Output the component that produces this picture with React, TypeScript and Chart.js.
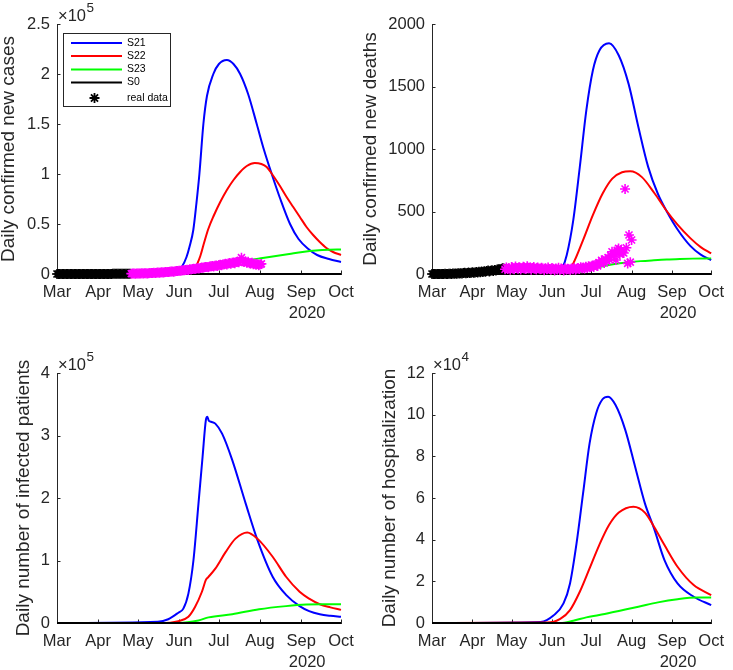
import { useEffect, useRef } from 'react';
import { Chart, registerables } from 'chart.js';

Chart.register(...registerables);

const FIG_W = 733;
const FIG_H = 670;
const FONT = '"Liberation Sans", Arial, Helvetica, sans-serif';
const INK = '#262626';

// ---------- axis categories ----------
const monthDays = [0, 31, 61, 92, 122, 153, 184, 214]; // days since 1 Mar 2020
const monthLabels = ['Mar', 'Apr', 'May', 'Jun', 'Jul', 'Aug', 'Sep', 'Oct'];
const yearLabel = '2020';

const seriesNames = ['S21', 'S22', 'S23', 'S0'];
const seriesColors = ['#0000ff', '#ff0000', '#00ff00', '#000000'];
const realDataName = 'real data';
const realEarlyColor = '#000000';
const realLateColor = '#ff00ff';

// ---------- real data (daily) ----------
const realEarlyStart = 0; // 1 Mar
const realLateStart = 56; // 26 Apr

const casesEarly = [
  0, 0, 0, 0, 1, 0, 2, 3, 6, 3,
  4, 17, 13, 13, 24, 38, 23, 46, 62, 54,
  56, 52, 80, 93, 47, 82, 87, 92, 65, 89,
  46, 71, 81, 72, 58, 106, 97, 102, 80, 86,
  84, 120, 143, 167, 148, 152, 174, 184, 198, 177,
  224, 197, 205, 245, 286, 318,
];
const casesLate = [
  354, 423, 440, 368, 471, 495, 612, 520, 663, 595,
  698, 730, 588, 874, 905, 1010, 943, 1160, 1078, 1225,
  1380, 1210, 1505, 1640, 1510, 1790, 1880, 2080, 1930, 2290,
  2440, 2620, 2350, 2780, 3050, 2880, 3270, 3150, 3510, 3820,
  3690, 4080, 4360, 4020, 4640, 4510, 4880, 5210, 4970, 5520,
  5840, 5460, 6120, 6450, 6210, 6780, 6970, 7120, 6640, 7380,
  7690, 7940, 7420, 8250, 8560, 8110, 8920, 9240, 8730, 9480,
  9830, 10210, 9560, 10620, 10940, 10150, 11360, 11620, 10820, 12080,
  12450, 11710, 13240, 16300, 12830, 11950, 12640, 11280, 12180, 10870,
  10420, 11150, 9680, 10330, 9240, 10060, 8870, 9520, 10120,
];
const deathsEarly = [
  0, 0, 0, 0, 0, 0, 0, 1, 0, 0,
  2, 1, 0, 3, 2, 1, 4, 3, 5, 2,
  6, 4, 7, 5, 8, 10, 6, 9, 12, 8,
  11, 14, 10, 13, 16, 12, 18, 15, 20, 17,
  22, 19, 24, 28, 21, 26, 31, 25, 33, 29,
  36, 38, 32, 41, 47, 44,
];
const deathsLate = [
  38, 52, 41, 47, 35, 56, 44, 39, 61, 48,
  42, 55, 37, 49, 58, 45, 40, 63, 51, 46,
  34, 48, 57, 42, 36, 53, 45, 39, 50, 44,
  31, 46, 38, 52, 41, 35, 48, 43, 29, 45,
  37, 50, 33, 44, 40, 28, 47, 36, 42, 39,
  32, 45, 38, 51, 35, 43, 48, 40, 55, 46,
  52, 44, 58, 49, 63, 55, 60, 68, 57, 72,
  78, 65, 92, 84, 110, 98, 88, 120, 105, 132,
  115, 150, 178, 142, 165, 112, 190, 205, 158, 192,
  175, 168, 680, 210, 85, 312, 95, 272,
];

// ---------- model scenarios: daily confirmed new cases ----------
const casesS21Days = [0, 85, 90, 94, 97.6, 100, 102.7, 105, 107.3, 110.3, 113, 117.8, 122, 128, 133, 138, 144, 150.5, 156, 161.8, 168, 175.6, 182, 189.4, 196, 205, 214];
const casesS21 = [0, 500, 2000, 7000, 17000, 28000, 44000, 70000, 100000, 150000, 178000, 200000, 210000, 214000, 210000, 200000, 180000, 150000, 124000, 100000, 76000, 50000, 35000, 25000, 19000, 15000, 12000];
const casesS22Days = [0, 96, 100, 104, 108, 111, 114, 118, 123, 128, 133, 138, 143, 149, 154, 158, 162, 168, 173, 178, 183, 188, 193, 198, 203, 208, 214];
const casesS22 = [0, 0, 1000, 6000, 18000, 32000, 45000, 58000, 72000, 84000, 94000, 102000, 108000, 111000, 110000, 107000, 100000, 88000, 77000, 67000, 57000, 47000, 39000, 32000, 26000, 22000, 19000];
const casesS23Days = [0, 95, 105, 115, 125, 135, 145, 155, 165, 175, 185, 195, 205, 214];
const casesS23 = [0, 0, 2000, 5000, 8000, 11000, 14000, 16000, 18000, 20000, 22000, 23500, 24300, 24500];
const casesS0Days = [0, 214];
const casesS0 = [0, 0];

// ---------- daily confirmed new deaths ----------
const deathsS21Days = [0, 95.8, 100, 103.3, 108.3, 113.3, 118.3, 123.3, 128.3, 135.7, 143.2, 150.7, 158.2, 165.7, 173.2, 180, 188, 198, 206, 214];
const deathsS21 = [0, 0, 50, 152, 431, 856, 1309, 1628, 1788, 1846, 1748, 1521, 1176, 857, 640, 500, 360, 225, 155, 112];
const deathsS22Days = [0, 100, 104.5, 108.3, 115.8, 123.3, 130.8, 138.2, 145.7, 152, 160.7, 170.7, 179.5, 188.2, 198.2, 206, 214];
const deathsS22 = [0, 0, 25, 85, 271, 471, 644, 763, 814, 822, 777, 644, 510, 395, 285, 215, 165];
const deathsS23Days = [0, 100, 110, 120, 130, 140, 150, 160, 170, 180, 190, 200, 214];
const deathsS23 = [0, 0, 10, 35, 60, 80, 93, 103, 110, 116, 120, 123, 125];
const deathsS0Days = [0, 214];
const deathsS0 = [0, 0];

// ---------- daily number of infected patients ----------
const infS21Days = [0, 76, 83.8, 91.4, 95.2, 99, 102.8, 106.6, 109.7, 112.2, 113.3, 114.3, 116, 119.3, 124.4, 132, 142.2, 151, 162.5, 172.6, 182.8, 190, 198, 206, 214];
const infS21 = [0, 2000, 6000, 16500, 23000, 47000, 100000, 191000, 266000, 325000, 330000, 324000, 322000, 319000, 303000, 261000, 191000, 133000, 74000, 45000, 27000, 19000, 14000, 11500, 10000];
const infS22Days = [0, 77.7, 91.4, 99, 104.1, 109.2, 112.2, 113.8, 119.3, 126.9, 134.5, 143.4, 151, 162.5, 172.6, 182.8, 190, 198, 206, 214];
const infS22 = [0, 0, 3000, 10000, 26000, 50000, 69000, 73000, 87000, 113000, 135000, 145000, 135000, 106000, 74000, 50000, 39000, 30000, 25000, 21000];
const infS23Days = [0, 91.4, 106.6, 114.2, 132, 152.3, 172.6, 187.8, 200, 214];
const infS23 = [0, 0, 4000, 9000, 14000, 22000, 27000, 29500, 30000, 30000];
const infS0Days = [0, 214];
const infS0 = [0, 0];

// ---------- daily number of hospitalization ----------
const hospS21Days = [0, 83.3, 93.3, 100.8, 105.8, 110.8, 115.8, 120.8, 125.8, 130.7, 135, 140.7, 148.2, 155.7, 163.2, 170.2, 178.2, 188.2, 200.6, 214];
const hospS21 = [0, 500, 3700, 9400, 19000, 38200, 62200, 86200, 100600, 107400, 108600, 104600, 92600, 75000, 57400, 45400, 30200, 19000, 12600, 8600];
const hospS22Days = [0, 88.3, 98.3, 105.8, 113.3, 120.8, 128.2, 135.7, 143.2, 154.4, 163.2, 170.2, 178.2, 188.2, 200.6, 214];
const hospS22 = [0, 200, 2000, 6200, 15000, 26200, 37400, 47000, 53000, 55800, 53000, 46200, 37400, 27000, 18200, 13400];
const hospS23Days = [0, 98.3, 108.3, 118.3, 128.2, 143.2, 158.2, 173.2, 188.2, 203.2, 214];
const hospS23 = [0, 0, 1100, 2700, 3800, 5800, 7800, 9900, 11400, 12200, 12200];
const hospS0Days = [0, 214];
const hospS0 = [0, 0];

// ---------- panel setup ----------
type Series = { days: number[]; vals: number[] };
type Panel = {
  title: string;
  yMax: number;
  yStep: number;
  yDiv: number;
  expText: string | null;
  area: { l: number; t: number; r: number; b: number };
  titleCx: number;
  models: Series[];
  realEarly?: number[];
  realLate?: number[];
  legend?: boolean;
};

const panels: Panel[] = [
  {
    title: 'Daily confirmed new cases',
    yMax: 250000, yStep: 50000, yDiv: 1e5, expText: '5',
    area: { l: 57, t: 24, r: 341, b: 274 }, titleCx: 8.5,
    models: [
      { days: casesS21Days, vals: casesS21 },
      { days: casesS22Days, vals: casesS22 },
      { days: casesS23Days, vals: casesS23 },
      { days: casesS0Days, vals: casesS0 },
    ],
    realEarly: casesEarly, realLate: casesLate, legend: true,
  },
  {
    title: 'Daily confirmed new deaths',
    yMax: 2000, yStep: 500, yDiv: 1, expText: null,
    area: { l: 432, t: 24, r: 718, b: 274 }, titleCx: 370.5,
    models: [
      { days: deathsS21Days, vals: deathsS21 },
      { days: deathsS22Days, vals: deathsS22 },
      { days: deathsS23Days, vals: deathsS23 },
      { days: deathsS0Days, vals: deathsS0 },
    ],
    realEarly: deathsEarly, realLate: deathsLate,
  },
  {
    title: 'Daily number of infected patients',
    yMax: 400000, yStep: 100000, yDiv: 1e5, expText: '5',
    area: { l: 57, t: 373, r: 341, b: 623 }, titleCx: 24,
    models: [
      { days: infS21Days, vals: infS21 },
      { days: infS22Days, vals: infS22 },
      { days: infS23Days, vals: infS23 },
      { days: infS0Days, vals: infS0 },
    ],
  },
  {
    title: 'Daily number of hospitalization',
    yMax: 120000, yStep: 20000, yDiv: 1e4, expText: '4',
    area: { l: 432, t: 373, r: 718, b: 623 }, titleCx: 389.5,
    models: [
      { days: hospS21Days, vals: hospS21 },
      { days: hospS22Days, vals: hospS22 },
      { days: hospS23Days, vals: hospS23 },
      { days: hospS0Days, vals: hospS0 },
    ],
  },
];

const TICK_SIZE = 16.5;
const TITLE_SIZE = 19;
const TITLE_LH = 0.8;
const MARKER_R = 5;
const MARKER_W = 1.6;

function drawStar(ctx: CanvasRenderingContext2D, cx: number, cy: number, r: number) {
  const d = r * Math.SQRT1_2;
  ctx.beginPath();
  ctx.moveTo(cx - r, cy); ctx.lineTo(cx + r, cy);
  ctx.moveTo(cx, cy - r); ctx.lineTo(cx, cy + r);
  ctx.moveTo(cx - d, cy - d); ctx.lineTo(cx + d, cy + d);
  ctx.moveTo(cx - d, cy + d); ctx.lineTo(cx + d, cy - d);
  ctx.stroke();
}

const inwardTicks = {
  id: 'inwardTicks',
  beforeDatasetsDraw(chart: any) {
    const { ctx, chartArea: a, scales } = chart;
    const x = scales.x;
    const y = scales.y;
    ctx.save();
    ctx.strokeStyle = INK;
    ctx.lineWidth = 1;
    ctx.beginPath();
    for (const t of x.ticks) {
      const px = Math.round(x.getPixelForValue(t.value)) + 0.5;
      ctx.moveTo(px, a.bottom);
      ctx.lineTo(px, a.bottom - 3.5);
    }
    for (const t of y.ticks) {
      const py = Math.round(y.getPixelForValue(t.value)) + 0.5;
      ctx.moveTo(a.left, py);
      ctx.lineTo(a.left + 3.5, py);
    }
    ctx.stroke();
    ctx.restore();
  },
};

const figExtras = {
  id: 'figExtras',
  afterDraw(chart: any, _args: any, opts: any) {
    const { ctx, chartArea: a, scales } = chart;
    const x = scales.x;
    ctx.save();
    ctx.fillStyle = INK;
    ctx.font = `${TICK_SIZE}px ${FONT}`;
    ctx.textAlign = 'center';
    ctx.textBaseline = 'middle';
    ctx.fillText(yearLabel, x.getPixelForValue(monthDays[6]) + 6, a.bottom + 39);

    if (opts && opts.expText) {
      ctx.textAlign = 'left';
      ctx.textBaseline = 'alphabetic';
      ctx.font = `${TICK_SIZE}px ${FONT}`;
      const base = '\u00d710';
      ctx.fillText(base, a.left + 1, a.top - 3.5);
      const w = ctx.measureText(base).width;
      ctx.font = `13.5px ${FONT}`;
      ctx.fillText(opts.expText, a.left + 1 + w + 0.5, a.top - 12);
    }

    if (opts && opts.legend) {
      const bx = 63.5, by = 33.5, bw = 107, bh = 73;
      ctx.fillStyle = '#ffffff';
      ctx.fillRect(bx, by, bw, bh);
      ctx.strokeStyle = INK;
      ctx.lineWidth = 1;
      ctx.strokeRect(bx, by, bw, bh);
      const rowY = [43, 56, 69.5, 82.5];
      ctx.font = `10.5px ${FONT}`;
      ctx.textAlign = 'left';
      ctx.textBaseline = 'middle';
      seriesNames.forEach((n, i) => {
        ctx.strokeStyle = seriesColors[i];
        ctx.lineWidth = 2;
        ctx.beginPath();
        ctx.moveTo(71, rowY[i]);
        ctx.lineTo(122, rowY[i]);
        ctx.stroke();
        ctx.fillStyle = '#000000';
        ctx.fillText(n, 127, rowY[i]);
      });
      ctx.strokeStyle = realEarlyColor;
      ctx.lineWidth = 1.8;
      drawStar(ctx, 94.5, 98, 5);
      ctx.fillStyle = '#000000';
      ctx.fillText(realDataName, 127, 98);
    }
    ctx.restore();
  },
};

const pts = (days: number[], vals: number[]) => days.map((d, i) => ({ x: d, y: vals[i] }));
const daily = (start: number, vals: number[]) => vals.map((v, i) => ({ x: start + i, y: v }));

function makeChart(canvas: HTMLCanvasElement, p: Panel) {
  const padLeft = p.titleCx - (TITLE_SIZE * TITLE_LH) / 2;
  const datasets: any[] = [];
  const realStyle = (color: string) => ({
    showLine: false,
    pointStyle: 'star',
    pointRadius: MARKER_R,
    pointBorderWidth: MARKER_W,
    pointBorderColor: color,
    pointBackgroundColor: color,
    borderColor: color,
    clip: false,
  });
  if (p.realLate) {
    datasets.push({ label: realDataName, data: daily(realLateStart, p.realLate), ...realStyle(realLateColor) });
  }
  if (p.realEarly) {
    datasets.push({ label: realDataName, data: daily(realEarlyStart, p.realEarly), ...realStyle(realEarlyColor) });
  }
  for (const i of [3, 2, 1, 0]) {
    datasets.push({
      label: seriesNames[i],
      data: pts(p.models[i].days, p.models[i].vals),
      borderColor: seriesColors[i],
      backgroundColor: seriesColors[i],
      borderWidth: 2,
      pointRadius: 0,
      cubicInterpolationMode: 'monotone',
      fill: false,
      clip: false,
    });
  }

  return new Chart(canvas, {
    type: 'line',
    data: { datasets },
    plugins: [inwardTicks, figExtras],
    options: {
      responsive: false,
      animation: false,
      events: [],
      layout: { padding: { left: padLeft, top: p.area.t, right: FIG_W - p.area.r, bottom: 0 } },
      plugins: {
        legend: { display: false },
        tooltip: { enabled: false },
        figExtras: { expText: p.expText, legend: !!p.legend },
      } as any,
      scales: {
        x: {
          type: 'linear',
          min: 0,
          max: 214,
          afterBuildTicks: (s: any) => { s.ticks = monthDays.map((v) => ({ value: v })); },
          afterFit: (s: any) => { s.height = FIG_H - p.area.b; },
          ticks: {
            autoSkip: false,
            maxRotation: 0,
            minRotation: 0,
            padding: 9,
            color: INK,
            font: { family: FONT, size: TICK_SIZE },
            callback: (_v: any, idx: number) => monthLabels[idx],
          },
          grid: { display: false, drawTicks: false },
          border: { display: true, color: INK, width: 1 },
        },
        y: {
          type: 'linear',
          min: 0,
          max: p.yMax,
          afterFit: (s: any) => { s.width = p.area.l - padLeft; },
          ticks: {
            stepSize: p.yStep,
            padding: 7,
            color: INK,
            font: { family: FONT, size: TICK_SIZE },
            callback: (v: any) => String(+(Number(v) / p.yDiv).toFixed(2)),
          },
          title: {
            display: true,
            text: p.title,
            color: INK,
            padding: 0,
            font: { family: FONT, size: TITLE_SIZE, lineHeight: TITLE_LH },
          },
          grid: { display: false, drawTicks: false },
          border: { display: true, color: INK, width: 1 },
        },
      },
    } as any,
  });
}

export default function App() {
  const refs = useRef<(HTMLCanvasElement | null)[]>([]);
  useEffect(() => {
    const charts = panels.map((p, i) => makeChart(refs.current[i] as HTMLCanvasElement, p));
    return () => charts.forEach((c) => c.destroy());
  }, []);
  return (
    <div style={{ position: 'absolute', left: 0, top: 0, width: FIG_W, height: FIG_H, background: '#ffffff' }}>
      {panels.map((_p, i) => (
        <canvas
          key={i}
          ref={(el) => { refs.current[i] = el; }}
          width={FIG_W}
          height={FIG_H}
          style={{ position: 'absolute', left: 0, top: 0 }}
        />
      ))}
    </div>
  );
}
